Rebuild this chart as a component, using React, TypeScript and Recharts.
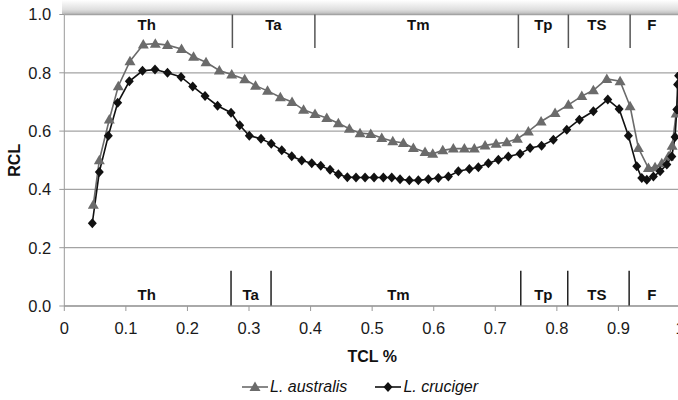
import React from 'react';
import {
  LineChart, Line, XAxis, YAxis, CartesianGrid, ReferenceLine, ReferenceDot
} from 'recharts';

// TCL (x) and RCL (y) for each species
const AUS_TCL = [
  0.0471, 0.0569, 0.0731, 0.0877, 0.1067, 0.1283, 0.1478, 0.1676, 0.1904, 0.2099,
  0.2302, 0.2518, 0.2719, 0.2930, 0.3106, 0.3301, 0.3509, 0.3699, 0.3886, 0.4072,
  0.4263, 0.4451, 0.4630, 0.4803, 0.4977, 0.5156, 0.5335, 0.5507, 0.5669, 0.5859,
  0.5984, 0.6147, 0.6319, 0.6498, 0.6660, 0.6834, 0.7013, 0.7187, 0.7359, 0.7537,
  0.7744, 0.7971, 0.8187, 0.8405, 0.8593, 0.8811, 0.9027, 0.9189, 0.9324, 0.9487,
  0.9595, 0.9704, 0.9812, 0.9872, 0.9937, 0.9985
];
const AUS_RCL = [
  0.347, 0.50, 0.64, 0.754, 0.84, 0.897, 0.90, 0.895, 0.882, 0.855,
  0.836, 0.808, 0.794, 0.778, 0.756, 0.738, 0.716, 0.70, 0.673, 0.659,
  0.645, 0.627, 0.608, 0.593, 0.59, 0.576, 0.565, 0.559, 0.542, 0.528,
  0.522, 0.534, 0.54, 0.54, 0.54, 0.551, 0.557, 0.562, 0.574, 0.599,
  0.633, 0.662, 0.69, 0.72, 0.74, 0.779, 0.771, 0.685, 0.542, 0.473,
  0.476, 0.49, 0.513, 0.55, 0.66, 0.77
];

const CRU_TCL = [
  0.0455, 0.0569, 0.0715, 0.0867, 0.1056, 0.1270, 0.1473, 0.1676, 0.1896, 0.2086,
  0.2286, 0.2489, 0.2708, 0.2849, 0.3005, 0.3195, 0.3361, 0.3532, 0.3694, 0.3856,
  0.4019, 0.4165, 0.4316, 0.4451, 0.4597, 0.4738, 0.4885, 0.5031, 0.5182, 0.5318,
  0.5453, 0.5604, 0.5750, 0.5913, 0.6075, 0.6238, 0.6400, 0.6579, 0.6725, 0.6888,
  0.7050, 0.7212, 0.7402, 0.7565, 0.7752, 0.7943, 0.8161, 0.8366, 0.8593, 0.8827,
  0.9011, 0.9162, 0.9298, 0.9379, 0.9461, 0.9568, 0.9677, 0.9786, 0.9867, 0.9920,
  0.9948, 0.9961, 0.9977
];
const CRU_RCL = [
  0.284, 0.46, 0.584, 0.697, 0.771, 0.807, 0.811, 0.80, 0.786, 0.753,
  0.72, 0.687, 0.663, 0.62, 0.584, 0.574, 0.557, 0.534, 0.514, 0.499,
  0.49, 0.481, 0.467, 0.452, 0.442, 0.441, 0.441, 0.441, 0.441, 0.441,
  0.435, 0.431, 0.431, 0.435, 0.439, 0.444, 0.462, 0.47, 0.476, 0.49,
  0.502, 0.513, 0.522, 0.542, 0.55, 0.57, 0.605, 0.639, 0.668, 0.708,
  0.676, 0.584, 0.479, 0.439, 0.433, 0.444, 0.462, 0.485, 0.513, 0.58,
  0.674, 0.76, 0.79
];

// stage bands (top band for L. australis, bottom band for L. cruciger)
const STAGES = ['Th', 'Ta', 'Tm', 'Tp', 'TS', 'F'];
const TOP_SPLITS = [0.273, 0.407, 0.7375, 0.8187, 0.919];
const TOP_LABEL_X = [0.1339, 0.3395, 0.575, 0.7781, 0.8649, 0.9542];
const BOTTOM_SPLITS = [0.2708, 0.3358, 0.7414, 0.8177, 0.9174];
const BOTTOM_LABEL_X = [0.1339, 0.3028, 0.5426, 0.7781, 0.8649, 0.9542];

const X_TICKS = [0, 0.1, 0.2, 0.3, 0.4, 0.5, 0.6, 0.7, 0.8, 0.9, 1];
const Y_TICKS = [0, 0.2, 0.4, 0.6, 0.8, 1.0];

const GREY = '#6b6b6b';
const BLACK = '#111111';
const FONT = "'Liberation Sans', Arial, sans-serif";

const ausData = AUS_TCL.map((x, i) => ({ tcl: x, rcl: AUS_RCL[i] }));
const cruData = CRU_TCL.map((x, i) => ({ tcl: x, rcl: CRU_RCL[i] }));

function triangle(p: any) {
  const { cx, cy, index } = p;
  return (
    <path key={`t${index}`} d={`M${cx},${cy - 5.5}L${cx + 5.5},${cy + 4}L${cx - 5.5},${cy + 4}Z`} fill={GREY} />
  );
}

function diamond(p: any) {
  const { cx, cy, index } = p;
  return (
    <path key={`d${index}`} d={`M${cx},${cy - 5}L${cx + 4.5},${cy}L${cx},${cy + 5}L${cx - 4.5},${cy}Z`} fill={BLACK} />
  );
}

const labelStyle = { fontSize: 15, fontWeight: 'bold', fill: '#111', fontFamily: FONT };
const tickStyle = { fontSize: 16.5, fill: '#1a1a1a', fontFamily: FONT };

export default function App() {
  return (
    <div style={{ position: 'fixed', left: 0, top: 0, width: 678, height: 400, overflow: 'hidden', background: '#fff', fontFamily: FONT }}>
      <div style={{
        position: 'absolute', left: 62, top: 0, width: 640, height: 14,
        background: 'linear-gradient(to bottom, rgba(255,255,255,0), rgba(160,160,160,0.35) 70%, rgba(120,120,120,0.5))'
      }} />
      <LineChart width={700} height={400} margin={{ top: 14.5, right: 20, left: 14.3, bottom: 34 }}>
        <CartesianGrid vertical={false} stroke="#a3a3a3" strokeWidth={1.3} />
        <XAxis
          type="number" dataKey="tcl" domain={[0, 1]} ticks={X_TICKS} allowDataOverflow
          tickFormatter={(v) => (v === 0 || v === 1 ? String(v) : v.toFixed(1))}
          stroke="#999" tickSize={5} tickMargin={11} height={60}
          tick={tickStyle}
          label={{ value: 'TCL %', position: 'insideBottom', offset: 4, style: { ...labelStyle, fontSize: 16 } }}
        />
        <YAxis
          type="number" domain={[0, 1]} ticks={Y_TICKS} width={50}
          tickFormatter={(v) => v.toFixed(1)}
          stroke="#999" tickSize={5} tickMargin={8}
          tick={tickStyle}
          label={{ value: 'RCL', angle: -90, position: 'insideLeft', offset: 0, style: { ...labelStyle, fontSize: 16, textAnchor: 'middle' } }}
        />
        {TOP_SPLITS.map((x) => (
          <ReferenceLine key={`ts${x}`} segment={[{ x, y: 1 }, { x, y: 0.885 }]} stroke="#555" strokeWidth={1.5} />
        ))}
        {BOTTOM_SPLITS.map((x) => (
          <ReferenceLine key={`bs${x}`} segment={[{ x, y: 0 }, { x, y: 0.121 }]} stroke="#222" strokeWidth={1.5} />
        ))}
        {STAGES.map((s, i) => (
          <ReferenceDot key={`tl${s}`} x={TOP_LABEL_X[i]} y={0.964} r={0} fill="none" stroke="none"
            label={{ value: s, position: 'center', style: labelStyle }} />
        ))}
        {STAGES.map((s, i) => (
          <ReferenceDot key={`bl${s}`} x={BOTTOM_LABEL_X[i]} y={0.038} r={0} fill="none" stroke="none"
            label={{ value: s, position: 'center', style: labelStyle }} />
        ))}
        <Line data={ausData} dataKey="rcl" name="L. australis" type="linear" stroke={GREY} strokeWidth={1.6}
          dot={triangle} activeDot={false} isAnimationActive={false} />
        <Line data={cruData} dataKey="rcl" name="L. cruciger" type="linear" stroke={BLACK} strokeWidth={1.6}
          dot={diamond} activeDot={false} isAnimationActive={false} />
      </LineChart>
      <div style={{ position: 'absolute', top: 377, left: 242, display: 'flex', alignItems: 'center', fontSize: 16, lineHeight: '20px', fontStyle: 'italic', color: '#111' }}>
        <svg width={26} height={12}>
          <line x1={0} y1={6} x2={26} y2={6} stroke={GREY} strokeWidth={1.6} />
          <path d="M13,0.5L18.5,10L7.5,10Z" fill={GREY} />
        </svg>
        <span style={{ marginLeft: 2 }}>L. australis</span>
        <svg width={26} height={12} style={{ marginLeft: 28 }}>
          <line x1={0} y1={6} x2={26} y2={6} stroke={BLACK} strokeWidth={1.6} />
          <path d="M13,1L17.5,6L13,11L8.5,6Z" fill={BLACK} />
        </svg>
        <span style={{ marginLeft: 2 }}>L. cruciger</span>
      </div>
    </div>
  );
}
